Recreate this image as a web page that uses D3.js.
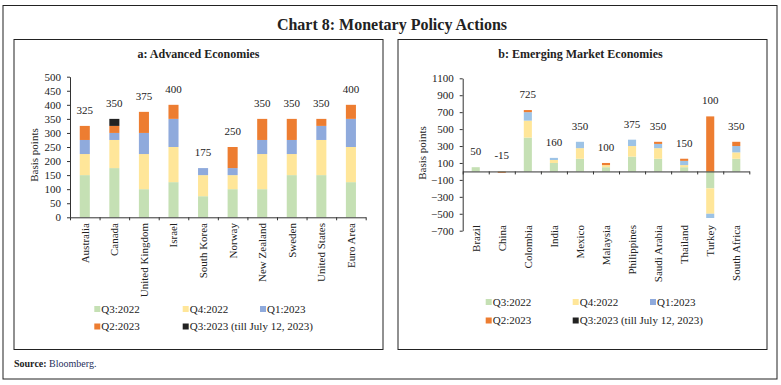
<!DOCTYPE html>
<html>
<head>
<meta charset="utf-8">
<script src="https://cdn.jsdelivr.net/npm/d3@7"></script>
<style>
  body { margin: 0; background: #fff; }
  svg text { font-family: "Liberation Serif", "DejaVu Serif", serif; fill: #222; }
</style>
</head>
<body>
<svg id="chart" width="781" height="385"></svg>
<script>
	// series (quarters)
	let seriesNames = ["Q3:2022", "Q4:2022", "Q1:2023", "Q2:2023", "Q3:2023 (till July 12, 2023)"]

	// a: Advanced Economies
	let advCountries = ["Australia", "Canada", "United Kingdom", "Israel", "South Korea", "Norway", "New Zealand", "Sweden", "United States", "Euro Area"]
	let advQ3_2022 = [150, 175, 100, 125, 75, 100, 100, 150, 150, 125]
	let advQ4_2022 = [75, 100, 125, 125, 75, 50, 125, 75, 125, 125]
	let advQ1_2023 = [50, 25, 75, 100, 25, 25, 50, 50, 50, 100]
	let advQ2_2023 = [50, 25, 75, 50, 0, 75, 75, 75, 25, 50]
	let advQ3_2023 = [0, 25, 0, 0, 0, 0, 0, 0, 0, 0]
	let advTotals = [325, 350, 375, 400, 175, 250, 350, 350, 350, 400]
	let advTicks = [0, 50, 100, 150, 200, 250, 300, 350, 400, 450, 500]

	// b: Emerging Market Economies
	let emeCountries = ["Brazil", "China", "Colombia", "India", "Mexico", "Malaysia", "Philippines", "Saudi Arabia", "Thailand", "Turkey", "South Africa"]
	let emeQ3_2022 = [50, -5, 400, 100, 150, 50, 175, 150, 50, -200, 150]
	let emeQ4_2022 = [0, 0, 200, 35, 125, 25, 125, 125, 25, -300, 75]
	let emeQ1_2023 = [0, 0, 100, 25, 75, 0, 75, 50, 50, -50, 75]
	let emeQ2_2023 = [0, -10, 25, 0, 0, 25, 0, 25, 25, 650, 50]
	let emeQ3_2023 = [0, 0, 0, 0, 0, 0, 0, 0, 0, 0, 0]
	let emeTotals = [50, -15, 725, 160, 350, 100, 375, 350, 150, 100, 350]
	let emeTicks = [-700, -500, -300, -100, 100, 300, 500, 700, 900, 1100]

	let svg = d3.select("#chart")

	function buildRows(countries, seriesArrays) {
		return countries.map((c, i) => {
			let row = { country: c }
			seriesNames.forEach((s, k) => { row[s] = seriesArrays[k][i] })
			return row
		})
	}

	function drawPanel(cfg) {
		let { box, plot, title, countries, rows, totals, domain, ticks, colors, labelEnd, legend } = cfg

		// panel frame
		svg.append("rect")
			.attr("x", box.x).attr("y", box.y)
			.attr("width", box.w).attr("height", box.h)
			.attr("fill", "none").attr("stroke", "#222").attr("stroke-width", 1)

		svg.append("text")
			.attr("x", box.x + box.w / 2 + cfg.titleShift).attr("y", box.y + 18)
			.attr("text-anchor", "middle")
			.attr("font-size", 12).attr("font-weight", "bold")
			.text(title)

		let xScale = d3.scaleBand()
			.domain(countries)
			.range([plot.x0, plot.x1])
			.paddingInner(cfg.padding)
			.paddingOuter(cfg.padding / 2)

		let yScale = d3.scaleLinear()
			.domain(domain)
			.range([plot.y1, plot.y0])

		let stack = d3.stack()
			.keys(seriesNames)
			.offset(d3.stackOffsetDiverging)
		let layers = stack(rows)

		let body = svg.append("g")
		layers.forEach((layer, k) => {
			body.selectAll(null)
				.data(layer.filter(d => d[1] !== d[0]))
				.enter().append("rect")
				.attr("x", d => xScale(d.data.country))
				.attr("width", xScale.bandwidth())
				.attr("y", d => yScale(Math.max(d[0], d[1])))
				.attr("height", d => Math.abs(yScale(d[0]) - yScale(d[1])))
				.attr("fill", colors[k])
		})

		// total labels above the highest positive segment
		let tops = rows.map(r => d3.sum(seriesNames, s => Math.max(r[s], 0)))
		svg.append("g").selectAll("text")
			.data(countries)
			.enter().append("text")
			.attr("x", d => xScale(d) + xScale.bandwidth() / 2)
			.attr("y", (d, i) => yScale(tops[i]) - 12)
			.attr("text-anchor", "middle")
			.attr("font-size", 11)
			.text((d, i) => totals[i])

		// y axis
		let axisY = d3.axisLeft(yScale)
			.tickValues(ticks)
			.tickSizeInner(3).tickSizeOuter(0).tickPadding(6)
			.tickFormat(d3.format("d"))
		let gy = svg.append("g")
			.attr("transform", `translate(${plot.x0},0)`)
			.call(axisY)
		gy.selectAll("text").attr("font-size", 11).attr("font-family", null).style("fill", "#222")
		gy.selectAll("path, line").attr("stroke", "#333")

		// x axis on zero line with ticks between categories
		let idx = d3.scaleLinear().domain([0, countries.length]).range([plot.x0, plot.x1])
		let axisX = d3.axisBottom(idx)
			.tickValues(d3.range(countries.length + 1))
			.tickSizeInner(3).tickSizeOuter(0)
			.tickFormat("")
		let gx = svg.append("g")
			.attr("transform", `translate(0,${yScale(0)})`)
			.call(axisX)
		gx.selectAll("path, line").attr("stroke", "#333")

		// category labels, rotated
		svg.append("g").selectAll("text")
			.data(countries)
			.enter().append("text")
			.attr("transform", d => `translate(${xScale(d) + xScale.bandwidth() / 2 + 4},${labelEnd}) rotate(-90)`)
			.attr("text-anchor", "end")
			.attr("font-size", 11)
			.text(d => d)

		svg.append("text")
			.attr("transform", `translate(${cfg.yLabel.x},${cfg.yLabel.y}) rotate(-90)`)
			.attr("text-anchor", "middle")
			.attr("font-size", 11)
			.text("Basis points")

		// legend
		let items = svg.append("g").selectAll("g")
			.data(seriesNames)
			.enter().append("g")
			.attr("transform", (d, i) => `translate(${legend.xs[i % 3]},${legend.ys[Math.floor(i / 3)]})`)
		items.append("rect")
			.attr("x", 0).attr("y", -6.5)
			.attr("width", 6).attr("height", 6)
			.attr("fill", (d, i) => cfg.legendColors[i])
		items.append("text")
			.attr("x", 7).attr("y", 0)
			.attr("font-size", 11)
			.text(d => d)
	}

	// page frame, title and source
	svg.append("rect")
		.attr("x", 3).attr("y", 5.5).attr("width", 774).attr("height", 373.5)
		.attr("fill", "none").attr("stroke", "#222").attr("stroke-width", 1)

	svg.append("text")
		.attr("x", 392).attr("y", 29.5)
		.attr("text-anchor", "middle")
		.attr("font-size", 16).attr("font-weight", "bold")
		.text("Chart 8: Monetary Policy Actions")

	let src = svg.append("text").attr("x", 14).attr("y", 367).attr("font-size", 10)
	src.append("tspan").attr("font-weight", "bold").text("Source: ")
	src.append("tspan").style("fill", "#1f2f5c").text("Bloomberg.")

	let legendColors = ["#c5e0b4", "#ffe699", "#8faadc", "#ed7d31", "#222222"]

	drawPanel({
		box: { x: 14, y: 39.5, w: 369, h: 310 },
		titleShift: 0,
		plot: { x0: 70, x1: 365.7, y0: 76.7, y1: 217.3 },
		title: "a: Advanced Economies",
		countries: advCountries,
		rows: buildRows(advCountries, [advQ3_2022, advQ4_2022, advQ1_2023, advQ2_2023, advQ3_2023]),
		totals: advTotals,
		domain: [0, 500],
		ticks: advTicks,
		padding: 0.66,
		colors: ["#c5e0b4", "#ffe699", "#8faadc", "#ed7d31", "#222222"],
		legendColors: legendColors,
		labelEnd: 223,
		yLabel: { x: 38, y: 155 },
		legend: { xs: [94.3, 182.7, 260], ys: [312.5, 330] }
	})

	drawPanel({
		box: { x: 398, y: 39.5, w: 369, h: 310 },
		titleShift: -2,
		plot: { x0: 462.7, x1: 749.3, y0: 78.3, y1: 230.7 },
		title: "b: Emerging Market Economies",
		countries: emeCountries,
		rows: buildRows(emeCountries, [emeQ3_2022, emeQ4_2022, emeQ1_2023, emeQ2_2023, emeQ3_2023]),
		totals: emeTotals,
		domain: [-700, 1100],
		ticks: emeTicks,
		padding: 0.69,
		colors: ["#c5e0b4", "#ffe699", "#9dc3e6", "#ed7d31", "#222222"],
		legendColors: legendColors,
		labelEnd: 225,
		yLabel: { x: 425.5, y: 153 },
		legend: { xs: [485.7, 572.7, 650], ys: [305.5, 324] }
	})
</script>
</body>
</html>
